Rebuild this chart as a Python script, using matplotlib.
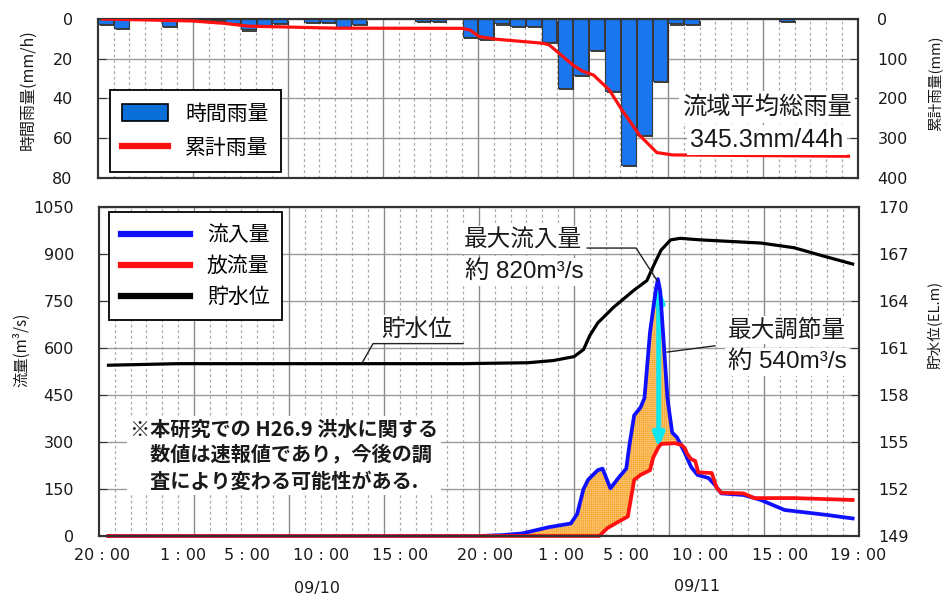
import numpy as np
import matplotlib
matplotlib.use("Agg")
import matplotlib.pyplot as plt
from matplotlib import patheffects as pe
from matplotlib.lines import Line2D
from matplotlib.patches import Patch

plt.rcParams['font.family'] = ['DejaVu Sans', 'Noto Sans CJK JP']
plt.rcParams['hatch.linewidth'] = 0.5

# ---------------- data (time in hours along the axis) ----------------
# hourly rainfall (mm/h), one value per hour slot
rain_hourly = [2.5, 4.5, 0, 0, 3.5, 0, 0.5, 0.5, 1.8, 5.2, 3.0, 2.0,
               0, 1.5, 1.5, 3.8, 2.5, 0, 0, 0, 0.8, 0.8, 0, 8.9,
               10.2, 2.2, 3.5, 3.5, 11.4, 34.8, 28.0, 15.6, 36.0, 73.4, 58.3, 31.0,
               2.2, 2.5, 0, 0, 0, 0, 0, 1.0, 0, 0, 0, 0]

# cumulative rainfall (mm)
cum_h = [0.3, 6.0, 8.0, 9.5, 15.0, 23.0, 23.5, 24.1, 25.2, 28.1, 28.5, 30.0,
         30.6, 31.3, 32.3, 33.1, 34.2, 35.3, 36.3, 47.4]
cum_mm = [0, 5, 11, 18, 23, 23.5, 27.7, 44.5, 51, 61, 65, 115.7,
          131, 141, 178.6, 229, 292, 336, 342, 345.3]

# inflow (m3/s)
in_h = [0.6, 24.0, 25.5, 26.7, 28.4, 29.8, 30.2, 30.6, 30.9, 31.5, 31.8, 32.3,
        32.8, 33.3, 33.5, 33.8, 34.2, 34.45, 34.8, 35.15, 35.3, 35.45, 35.9, 36.2,
        36.5, 37.0, 37.4, 37.8, 38.5, 38.9, 39.3, 40.7, 41.8, 43.3, 46.0, 47.6]
in_q = [0, 0, 3, 8, 28, 40, 70, 150, 180, 210, 215, 152,
        185, 215, 290, 385, 410, 440, 650, 780, 820, 780, 440, 330,
        315, 265, 220, 195, 185, 163, 136, 131, 115, 83, 67, 56]

# outflow (m3/s)
out_h = [0.6, 31.6, 32.1, 33.0, 33.4, 33.8, 34.2, 34.8, 35.0, 35.3, 35.5, 36.4,
         36.8, 37.0, 37.15, 37.4, 37.65, 37.85, 38.7, 39.0, 39.3, 40.7, 41.4, 43.9, 47.6]
out_q = [0, 0, 25, 51, 62, 179, 195, 210, 250, 280, 294, 296,
         290, 280, 262, 245, 240, 203, 201, 155, 138, 136, 121, 121, 115]

# reservoir water level (EL.m)
lvl_h = [0.6, 5.0, 23.0, 27.1, 28.7, 30.0, 30.6, 31.0, 31.5, 32.5, 33.8, 34.6,
         35.0, 35.5, 36.1, 36.7, 38.0, 41.8, 43.9, 46.0, 47.6]
lvl = [159.9, 160.0, 160.0, 160.06, 160.2, 160.45, 160.9, 161.8, 162.6, 163.6, 164.7, 165.3,
       166.2, 167.25, 167.9, 168.0, 167.9, 167.7, 167.4, 166.8, 166.36]

peak_h = 35.3          # time of maximum inflow
peak_q = 820           # maximum inflow (m3/s)
max_cut = 540          # maximum regulated amount (m3/s)

time_labels = ['20 : 00', '1 : 00', '5 : 00', '10 : 00', '15 : 00',
               '20 : 00', '1 : 00', '5 : 00', '10 : 00', '15 : 00', '19 : 00']
date_labels = ['09/10', '09/11']

# ---------------- layout ----------------
W, H = 945, 599
fig = plt.figure(figsize=(W / 100, H / 100), dpi=100)


def fx(x):
    return x / W


def fy(y):
    return 1 - y / H


HOURS = 48
TXT = '#1a1a1a'
SPINE = '#333333'

ax_r = fig.add_axes([fx(97.7), fy(178), fx(858) - fx(97.7), fy(19) - fy(178)])
ax_q = fig.add_axes([fx(99), fy(536), fx(859) - fx(99), fy(207) - fy(536)])


def draw_time_grid(ax):
    for k in range(1, HOURS):
        if k % 6 == 0:
            ax.axvline(k, color='#8a8a8a', lw=1.0, zorder=0.5)
        else:
            ax.axvline(k, color='#aaaaaa', lw=0.9, ls=(0, (2.2, 2.2)), zorder=0.5)


def style_axes(ax):
    for s in ax.spines.values():
        s.set_color(SPINE)
        s.set_linewidth(1.5)


# ---------------- rainfall panel ----------------
ax_r.set_xlim(0, HOURS)
ax_r.set_ylim(80, 0)
ax_r.set_yticks([0, 20, 40, 60, 80])
ax_r.set_xticks([])
ax_r.yaxis.grid(True, color='#9a9a9a', lw=1.0)
ax_r.set_axisbelow(True)
draw_time_grid(ax_r)
ax_r.tick_params(axis='y', direction='in', length=6, color=SPINE,
                 labelsize=11.5, labelcolor=TXT, pad=18)
style_axes(ax_r)

bar_blue = '#1a76ee'
slots = np.arange(len(rain_hourly))
vals = np.array(rain_hourly)
nz = vals > 0
bars = ax_r.bar(slots[nz] + 0.5, vals[nz], width=0.93, color=bar_blue,
                edgecolor='#3a3a3a', linewidth=0.8, zorder=2)
for b in bars:
    b.set_path_effects([pe.SimplePatchShadow(offset=(1.2, -1.6), shadow_rgbFace='#222222',
                                             alpha=0.85), pe.Normal()])

ax_r2 = ax_r.twinx()
ax_r2.set_ylim(400, 0)
ax_r2.set_yticks([0, 100, 200, 300, 400])
ax_r2.tick_params(axis='y', direction='in', length=6, color=SPINE,
                  labelsize=11.5, labelcolor=TXT, pad=14)
style_axes(ax_r2)
ax_r2.plot(cum_h, cum_mm, color='#ff1010', lw=2.3, zorder=3, solid_joinstyle='round')

leg1 = ax_r2.legend(
    handles=[Patch(facecolor='#0a6fd8', edgecolor='black', lw=1.2),
             Line2D([], [], color='#ff1010', lw=4.5)],
    labels=['時間雨量', '累計雨量'],
    loc='upper left', bbox_to_anchor=((110 - 97.7) / 760.3, 1 - (90 - 19) / 159),
    borderaxespad=0, fancybox=False, framealpha=1, edgecolor='black',
    prop={'family': 'Noto Sans CJK JP', 'size': 15},
    handlelength=2.2, handleheight=0.85, labelspacing=0.6, borderpad=0.6,
    handletextpad=0.8)
leg1.get_frame().set_linewidth(1.3)

tbox = dict(boxstyle='square,pad=0.12', facecolor='white', edgecolor='none')
ax_r2.text(42.25, 44.3 * 5, '流域平均総雨量', ha='center', va='center',
           family='Noto Sans CJK JP', fontsize=17.5, color=TXT, bbox=tbox, zorder=6)
ax_r2.text(42.25, 60.9 * 5, '345.3mm/44h', ha='center', va='center',
           family=['Liberation Sans', 'Noto Sans CJK JP'], fontsize=18, color=TXT,
           bbox=tbox, zorder=6)

fig.text(fx(28), fy(90), '時間雨量(mm/h)', rotation=90, ha='center', va='center',
         family='Noto Sans CJK JP', fontsize=11.5, color=TXT)
fig.text(fx(935), fy(83), '累計雨量(mm)', rotation=90, ha='center', va='center',
         family='Noto Sans CJK JP', fontsize=10.5, color=TXT)

# ---------------- discharge panel ----------------
ax_q.set_xlim(0, HOURS)
ax_q.set_ylim(0, 1050)
ax_q.set_yticks(np.arange(0, 1051, 150))
ax_q.yaxis.grid(True, color='#9a9a9a', lw=1.0)
ax_q.set_axisbelow(True)
draw_time_grid(ax_q)
ax_q.tick_params(axis='y', direction='in', length=6, color=SPINE,
                 labelsize=11.5, labelcolor=TXT, pad=18)
ax_q.set_xticks([0.2, 5.3, 9.35, 14.0, 19.0, 24.4, 29.2, 33.3, 37.95, 43.0, 47.95])
ax_q.set_xticklabels(time_labels)
ax_q.tick_params(axis='x', length=0, labelsize=11.5, labelcolor=TXT, pad=9)
style_axes(ax_q)

# regulated volume between inflow and outflow
tt = np.linspace(in_h[0], in_h[-1], 2000)
qi = np.interp(tt, in_h, in_q)
qo = np.interp(tt, out_h, out_q)
ax_q.fill_between(tt, qo, qi, where=qi > qo, interpolate=True, facecolor='#f59f1f',
                  edgecolor='#fcc470', hatch='++++++++', linewidth=0, zorder=2)

ax_q.annotate('', xy=(peak_h + 0.05, peak_q - 25), xytext=(peak_h + 0.05, peak_q - max_cut),
              arrowprops=dict(arrowstyle='<|-|>,head_length=0.8,head_width=0.32',
                              color='#10e6ee', lw=3.6,
                              mutation_scale=10, shrinkA=0, shrinkB=0), zorder=3)

ax_q.plot(in_h, in_q, color='#1010ff', lw=2.7, zorder=4, solid_joinstyle='round', clip_on=False)
ax_q.plot(out_h, out_q, color='#ff1010', lw=2.7, zorder=5, solid_joinstyle='round', clip_on=False)

ax_l = ax_q.twinx()
ax_l.set_ylim(149, 170)
ax_l.set_yticks(np.arange(149, 171, 3))
ax_l.tick_params(axis='y', direction='in', length=6, color=SPINE,
                 labelsize=11.5, labelcolor=TXT, pad=14)
style_axes(ax_l)
ax_l.plot(lvl_h, lvl, color='black', lw=2.3, zorder=3, solid_joinstyle='round')

leg2 = ax_l.legend(
    handles=[Line2D([], [], color='#1010ff', lw=4.5),
             Line2D([], [], color='#ff1010', lw=4.5),
             Line2D([], [], color='black', lw=4.5)],
    labels=['流入量', '放流量', '貯水位'],
    loc='upper left', bbox_to_anchor=((109 - 99) / 760, 1 - (212 - 207) / 329),
    borderaxespad=0, fancybox=False, framealpha=1, edgecolor='black',
    prop={'family': 'Noto Sans CJK JP', 'size': 15},
    handlelength=3.3, labelspacing=0.42, borderpad=0.6, handletextpad=0.8)
leg2.get_frame().set_linewidth(1.3)

# leader lines (drawn in discharge coordinates)
tq = ax_q.transData
ax_l.plot([30.83, 33.92, peak_h - 0.05], [919, 919, peak_q - 5], color='#222222', lw=1.0,
          transform=tq, zorder=7)
ax_l.plot([35.88, 38.9], [587, 607], color='#222222', lw=1.0, transform=tq, zorder=7)
ax_l.plot([22.99, 17.31, 16.61], [614, 614, 552], color='#222222', lw=1.0,
          transform=tq, zorder=7)

tbox2 = dict(boxstyle='square,pad=0.1', facecolor='white', edgecolor='none')
cjk = 'Noto Sans CJK JP'
num_font = ['Liberation Sans', 'Noto Sans CJK JP']
ax_l.text(26.78, 945, '最大流入量', transform=tq, ha='center', va='center',
          family=cjk, fontsize=17, color=TXT, bbox=tbox2, zorder=6)
ax_l.text(26.85, 843, '約 820m³/s', transform=tq, ha='center', va='center',
          family=num_font, fontsize=17.5, color=TXT, bbox=tbox2, zorder=6)
ax_l.text(43.46, 657, '最大調節量', transform=tq, ha='center', va='center',
          family=cjk, fontsize=17, color=TXT, bbox=tbox2, zorder=6)
ax_l.text(43.46, 555, '約 540m³/s', transform=tq, ha='center', va='center',
          family=num_font, fontsize=17.5, color=TXT, bbox=tbox2, zorder=6)
ax_l.text(20.09, 660, '貯水位', transform=tq, ha='center', va='center',
          family=cjk, fontsize=17, color=TXT, bbox=tbox2, zorder=6)

note = ('※本研究での H26.9 洪水に関する\n'
        '\u3000数値は速報値であり，今後の調\n'
        '\u3000査により変わる可能性がある.')
ax_l.text(1.96, 258, note, transform=tq, ha='left', va='center', family=cjk,
          fontsize=14.5, fontweight='bold', color=TXT, linespacing=1.3,
          bbox=dict(boxstyle='square,pad=0.15', facecolor='white', edgecolor='none'),
          zorder=6)

fig.text(fx(22), fy(350), '流量(m³/s)', rotation=90, ha='center', va='center',
         family='Noto Sans CJK JP', fontsize=11, color=TXT)
fig.text(fx(934), fy(325), '貯水位(EL.m)', rotation=90, ha='center', va='center',
         family='Noto Sans CJK JP', fontsize=10.5, color=TXT)

fig.text(fx(317), fy(588), date_labels[0], ha='center', va='center', fontsize=11.5, color=TXT)
fig.text(fx(697), fy(586), date_labels[1], ha='center', va='center', fontsize=11.5, color=TXT)

fig.savefig('out.png', dpi=100, facecolor='white')
